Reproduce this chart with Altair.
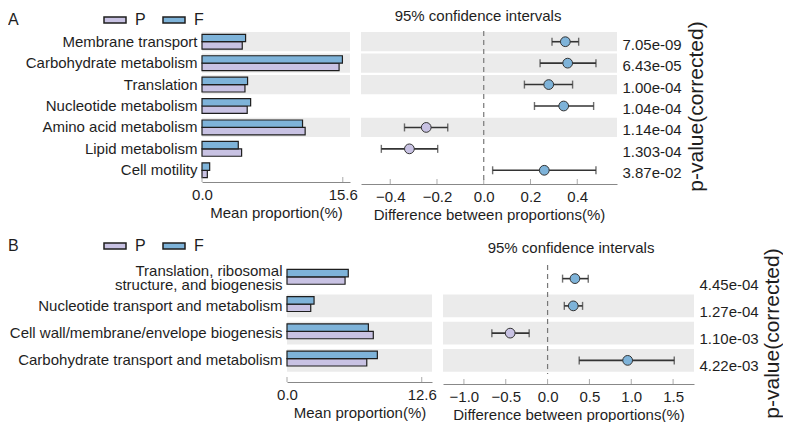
import altair as alt
import pandas as pd

# ---------------- data ----------------
a_cats = ["Membrane transport", "Carbohydrate metabolism", "Translation",
          "Nucleotide metabolism", "Amino acid metabolism", "Lipid metabolism",
          "Cell motility"]
a_P = [4.46, 15.19, 4.76, 5.01, 11.43, 4.39, 0.59]
a_F = [4.83, 15.56, 5.05, 5.39, 11.14, 4.02, 0.85]
a_diff = [0.349, 0.359, 0.278, 0.342, -0.246, -0.318, 0.259]
a_lo = [0.292, 0.241, 0.174, 0.217, -0.339, -0.438, 0.038]
a_hi = [0.406, 0.480, 0.380, 0.470, -0.154, -0.197, 0.480]
a_pval = ["7.05e-09", "6.43e-05", "1.00e-04", "1.04e-04", "1.14e-04", "1.303-04", "3.87e-02"]
a_band = [True, True, True, False, True, False, False]
a_bar_ticks = [0.0, 15.6]
a_ci_ticks = [-0.4, -0.2, 0.0, 0.2, 0.4]

b_cats = ["Translation, ribosomal\u00a0\u00a0\u00a0|structure, and biogenesis",
          "Nucleotide transport and metabolism",
          "Cell wall/membrane/envelope biogenesis",
          "Carbohydrate transport and metabolism"]
b_P = [5.43, 2.22, 8.07, 7.46]
b_F = [5.73, 2.53, 7.61, 8.45]
b_diff = [0.327, 0.307, -0.447, 0.957]
b_lo = [0.179, 0.200, -0.666, 0.378]
b_hi = [0.486, 0.418, -0.220, 1.514]
b_pval = ["4.45e-04", "1.27e-04", "1.10e-03", "4.22e-03"]
b_band = [False, True, True, True]
b_bar_ticks = [0.0, 12.6]
b_ci_ticks = [-1.0, -0.5, 0.0, 0.5, 1.0, 1.5]

groups = ["P", "F"]
colors = ["#c8c2e3", "#7eb3d9"]
ci_title = "95% confidence intervals"
BAND = "#ebebeb"
INK = "#1e1e1e"
AXIS_GREY = "#888888"
FONT = "Liberation Sans"


def make_row(letter, cats, P, F, diff, lo, hi, pval, band, bar_ticks, ci_ticks,
             bar_dom, ci_dom, w_sp, w_bar, w_ci, h, pin, pout, yo_pad,
             bar_off, ci_off, letter_y, leg_y, leg_x, t_x, t_y, lab_off, ptitle_y, ptitle_pad,
             cat_fs):
    bars_df = pd.DataFrame({
        "cat": cats * 2,
        "group": ["P"] * len(cats) + ["F"] * len(cats),
        "value": P + F,
    })
    band_df = pd.DataFrame({"cat": cats, "pval": pval, "band": band})
    ci_df = pd.DataFrame({
        "cat": cats, "pval": pval, "diff": diff, "lo": lo, "hi": hi,
        "group": ["F" if d > 0 else "P" for d in diff],
    })
    zero_df = pd.DataFrame({"z": [0.0]})
    bar_tick_df = pd.DataFrame({"t": bar_ticks})
    ci_tick_df = pd.DataFrame({"t": ci_ticks})

    y_cat = alt.Y("cat:N", sort=cats,
                  scale=alt.Scale(paddingInner=pin, paddingOuter=pout),
                  axis=alt.Axis(title=None, labelFontSize=cat_fs, ticks=False, domain=False,
                                labelPadding=5, labelLimit=500, labelColor=INK,
                                labelExpr="split(datum.label, '|')", labelLineHeight=14,
                                labelOffset={"condition": {"test": "indexof(datum.value, '|') >= 0",
                                                           "value": -8},
                                             "value": 0}))
    y_p = alt.Y("pval:N", sort=pval,
                scale=alt.Scale(paddingInner=pin, paddingOuter=pout),
                axis=alt.Axis(orient="right", title="p-value(corrected)", titleFontSize=21,
                              titleFontWeight="normal", titleAngle=270, titleBaseline="top",
                              titleY=ptitle_y, titlePadding=ptitle_pad, titleColor=INK,
                              labelFontSize=15, ticks=False, domain=False, labelPadding=5,
                              labelOffset=lab_off, labelColor=INK))

    bar_axis = alt.Axis(values=bar_ticks, format=".1f", title="Mean proportion(%)",
                        titleFontSize=15, titleFontWeight="normal", titleColor=INK,
                        labelFontSize=15, labelColor=INK, labelFlush=False,
                        ticks=False, domainColor=AXIS_GREY, labelPadding=5,
                        titlePadding=3, grid=False, offset=bar_off)
    ci_axis = alt.Axis(values=ci_ticks, format=".1f", title="Difference between proportions(%)",
                       titleFontSize=15, titleFontWeight="normal", titleColor=INK,
                       labelFontSize=15, labelColor=INK, labelFlush=False,
                       ticks=False, domainColor=AXIS_GREY, labelPadding=5,
                       titlePadding=3, grid=False, offset=ci_off)
    bar_scale = alt.Scale(domain=bar_dom, nice=False, zero=True)
    ci_scale = alt.Scale(domain=ci_dom, nice=False, zero=False)

    def xci(f):
        return alt.X(f, scale=ci_scale, axis=ci_axis)

    def xbar(f):
        return alt.X(f, scale=bar_scale, axis=bar_axis)

    spacer = alt.Chart(pd.DataFrame({"t": [letter]})).mark_text(
        fontSize=16, align="left", baseline="middle", color=INK, font=FONT
    ).encode(text="t:N", x=alt.value(0), y=alt.value(letter_y)).properties(width=w_sp, height=h)

    # ---- mean-proportion bars ----
    bands_bar = alt.Chart(band_df).transform_filter("datum.band").mark_rect(color=BAND).encode(
        y=y_cat, x=alt.value(0), x2=alt.value(w_bar))
    bars = alt.Chart(bars_df).mark_bar(stroke=INK, strokeWidth=1.2, opacity=1).encode(
        y=y_cat,
        yOffset=alt.YOffset("group:N", sort=["F", "P"], scale=alt.Scale(paddingOuter=yo_pad)),
        x=xbar("value:Q"),
        fill=alt.Fill("group:N", scale=alt.Scale(domain=groups, range=colors),
                      legend=alt.Legend(orient="none", legendX=leg_x, legendY=leg_y,
                                        direction="horizontal", title=None,
                                        symbolType="M-1,-0.27H1V0.27H-1Z", symbolSize=484,
                                        symbolStrokeColor=INK, symbolStrokeWidth=1.5,
                                        labelFontSize=16, labelColor=INK, labelOffset=8,
                                        columnPadding=14)),
    )
    # inward-pointing axis ticks (as in the reference)
    bar_ticks_mk = alt.Chart(bar_tick_df).mark_tick(
        orient="vertical", color=AXIS_GREY, size=5, thickness=1
    ).encode(x=xbar("t:Q"), y=alt.value(h + bar_off - 2.5))
    bar_panel = alt.layer(bands_bar, bars, bar_ticks_mk).properties(width=w_bar, height=h)

    # ---- confidence-interval panel ----
    bands_ci = alt.Chart(band_df).transform_filter("datum.band").mark_rect(color=BAND).encode(
        y=y_p, x=alt.value(0), x2=alt.value(w_ci))
    zero = alt.Chart(zero_df).mark_rule(color="#777", strokeDash=[5, 4], strokeWidth=1.2).encode(
        x=xci("z:Q"))
    err = alt.Chart(ci_df).mark_rule(color="#333", strokeWidth=1.6).encode(
        y=y_p, x=xci("lo:Q"), x2="hi:Q")
    cap_lo = alt.Chart(ci_df).mark_tick(color="#333", thickness=1.4, size=8).encode(
        y=y_p, x=xci("lo:Q"))
    cap_hi = alt.Chart(ci_df).mark_tick(color="#333", thickness=1.4, size=8).encode(
        y=y_p, x=xci("hi:Q"))
    pts = alt.Chart(ci_df).mark_circle(size=95, stroke="#333", strokeWidth=1, opacity=1).encode(
        y=y_p, x=xci("diff:Q"),
        fill=alt.Fill("group:N", scale=alt.Scale(domain=groups, range=colors), legend=None))
    ci_ticks_mk = alt.Chart(ci_tick_df).mark_tick(
        orient="vertical", color=AXIS_GREY, size=5, thickness=1
    ).encode(x=xci("t:Q"), y=alt.value(h + ci_off - 2.5))
    title_txt = alt.Chart(pd.DataFrame({"t": [ci_title]})).mark_text(
        fontSize=15, align="center", baseline="middle", color=INK, font=FONT
    ).encode(text="t:N", x=alt.value(t_x), y=alt.value(t_y))
    ci_panel = alt.layer(bands_ci, zero, err, cap_lo, cap_hi, pts, ci_ticks_mk, title_txt).properties(
        width=w_ci, height=h)
    return alt.hconcat(spacer, bar_panel, ci_panel, spacing=11, bounds="flush")


# legend position is relative to the row group (spacer + 11 px before the bars)
row_a = make_row("A", a_cats, a_P, a_F, a_diff, a_lo, a_hi, a_pval, a_band,
                 a_bar_ticks, a_ci_ticks, [0, 16.4], [-0.525, 0.57],
                 183, 148, 256, 150, 0.1, 0.05, 0.3,
                 1, 3, -11, -23, 95, 117, -15, 3, 75, 4, 15)
row_b = make_row("B", b_cats, b_P, b_F, b_diff, b_lo, b_hi, b_pval, b_band,
                 b_bar_ticks, b_ci_ticks, [0, 13.56], [-1.25, 1.75],
                 268, 145, 251, 109, 0.16, 0.08, 0.14,
                 8, 10, -19, -31, 95, 128, -17, 6, 68, 3, 15)

chart = alt.vconcat(row_a, row_b, spacing=12).resolve_scale(
    fill="independent"
).resolve_legend(fill="independent").properties(
    padding=0
).configure(font=FONT).configure_view(stroke=None)

chart.save("out.html", embed_options={"renderer": "svg", "actions": False})
